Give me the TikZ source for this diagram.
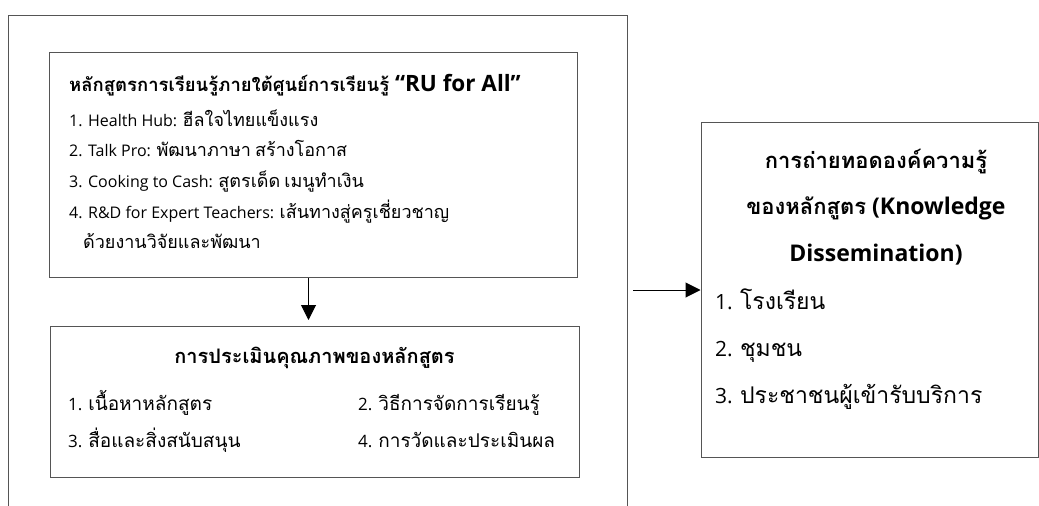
\documentclass[tikz,border=0pt]{standalone}
\usepackage{fontspec}
\setmainfont{Open Sans}
\newfontfamily\thaifont[Script=Thai]{Loma}
\usetikzlibrary{arrows.meta}
% automatic switch to the Thai font for Thai characters
\newcommand\thsz{19}
\newcommand\thon{\begingroup\fontsize{\thsz}{\thsz}\thaifont}
\newXeTeXintercharclass\thclass
\count255="0E00
\loop
  \XeTeXcharclass\count255=\thclass
  \ifnum\count255<"0E7F \advance\count255 by 1 \repeat
\XeTeXinterchartoks 0 \thclass = {\thon}
\XeTeXinterchartoks 4095 \thclass = {\thon}
\XeTeXinterchartoks \thclass 0 = {\endgroup}
\XeTeXinterchartoks \thclass 4095 = {\endgroup}
\XeTeXinterchartokenstate=1
\definecolor{linegray}{HTML}{555555}
\tikzset{
  box/.style={draw=linegray, line width=1pt, inner sep=0pt},
  frame/.style={draw=linegray, line width=1pt},
  arr/.style={line width=1pt, -{Triangle[length=15pt,width=15pt]}},
  ttl/.style={anchor=base, inner sep=0pt, font=\renewcommand\thsz{18.5}\fontsize{22.5}{26}\selectfont\bfseries},
  ttltwo/.style={anchor=base, inner sep=0pt, font=\renewcommand\thsz{20}\fontsize{21}{24}\selectfont\bfseries},
  itm/.style={anchor=base west, inner sep=0pt, font=\renewcommand\thsz{18}\fontsize{16}{18}\selectfont},
  itmtwo/.style={anchor=base west, inner sep=0pt, font=\renewcommand\thsz{19}\fontsize{17}{20}\selectfont},
  rttl/.style={anchor=base, inner sep=0pt, font=\renewcommand\thsz{22}\fontsize{23}{26}\selectfont\bfseries},
  ritm/.style={anchor=base west, inner sep=0pt, font=\renewcommand\thsz{23}\fontsize{21}{26}\selectfont},
}
\begin{document}
\begin{tikzpicture}[x=1pt,y=-1pt]
\useasboundingbox[fill=white] (0,0) rectangle (1039,506);
% outer frame (open at bottom)
\node[inner sep=0pt, minimum width=618.5pt, minimum height=491pt, anchor=north west] (outer) at (8.5,15) {};
\draw[frame] (outer.south west) -- (outer.north west) -- (outer.north east) -- (outer.south east);
% box 1
\node[box, minimum width=528.5pt, minimum height=225pt, anchor=north west] (b1) at (48.5,52) {};
\node[ttl, anchor=base west] (t1) at (69,91) {หลักสูตรการเรียนรู้ภายใต้ศูนย์การเรียนรู้ “RU for All”};
\node[itm] (i11) at (69,126) {1. Health Hub: ฮีลใจไทยแข็งแรง};
\node[itm] (i12) at (69,156) {2. Talk Pro: พัฒนาภาษา สร้างโอกาส};
\node[itm] (i13) at (69,187) {3. Cooking to Cash: สูตรเด็ด เมนูทำเงิน};
\node[itm] (i14) at (69,218) {4. R\&D for Expert Teachers: เส้นทางสู่ครูเชี่ยวชาญ};
\node[itm] (i15) at (83,248) {ด้วยงานวิจัยและพัฒนา};
% box 2
\node[box, minimum width=529pt, minimum height=151pt, anchor=north west] (b2) at (50,326) {};
\node[ttltwo] (t2) at (314.5,363) {การประเมินคุณภาพของหลักสูตร};
\node[itmtwo] (i21) at (68,410) {1. เนื้อหาหลักสูตร};
\node[itmtwo] (i22) at (358,410) {2. วิธีการจัดการเรียนรู้};
\node[itmtwo] (i23) at (68,447) {3. สื่อและสิ่งสนับสนุน};
\node[itmtwo] (i24) at (358,447) {4. การวัดและประเมินผล};
% right box
\node[box, minimum width=337pt, minimum height=335pt, anchor=north west] (rb) at (700.5,122) {};
\node[rttl] (r1) at (876,168) {การถ่ายทอดองค์ความรู้};
\node[rttl] (r2) at (876,214) {ของหลักสูตร (Knowledge};
\node[rttl] (r3) at (876,261) {Dissemination)};
\node[ritm] (r4) at (715,309) {1. โรงเรียน};
\node[ritm] (r5) at (715,356) {2. ชุมชน};
\node[ritm] (r6) at (715,403) {3. ประชาชนผู้เข้ารับบริการ};
% connectors
\draw[arr, shorten >=6pt] ([xshift=-4.75pt]b1.south) -- ([xshift=-4.75pt]b1.south |- b2.north);
\draw[arr, shorten <=6pt] (outer.east |- rb.west) -- (rb.west);
\end{tikzpicture}
\end{document}
